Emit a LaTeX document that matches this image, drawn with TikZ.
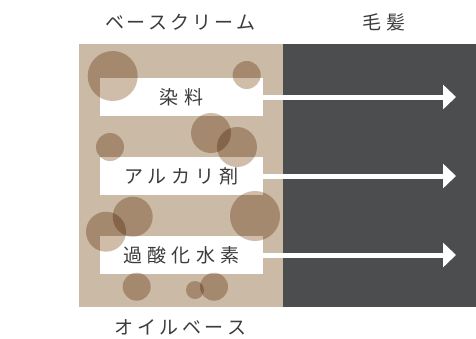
\documentclass[tikz,border=0pt]{standalone}
\usepackage{fontspec}
\newfontfamily\jp{Noto Sans CJK JP}
\usetikzlibrary{arrows.meta}
\definecolor{beige}{HTML}{CBBAA6}
\definecolor{hair}{HTML}{4C4D4F}
\definecolor{dot}{HTML}{CFBDAA}
\definecolor{ink}{HTML}{3C3C3C}
\begin{document}
\begin{tikzpicture}[x=1pt,y=-1pt,
  lbl/.style={font=\jp\fontsize{19}{19}\selectfont, text=ink, inner sep=0pt},
  boxlbl/.style={lbl, fill=white, minimum width=163pt, minimum height=38pt},
  flow/.style={draw=white, line width=5pt, -{Triangle[length=13pt,width=24pt]}},
  dotc/.style={fill=dot, draw=none}]
\useasboundingbox (0,0) rectangle (476,338);
\fill[white] (0,0) rectangle (476,338);
\fill[beige] (79,44) rectangle (283,307);
\fill[hair] (283,44) rectangle (476,307);
% headers
\node[lbl] (h1) at (180.5,22) {ベ\kern3pt ー\kern3pt ス\kern3pt ク\kern3pt リ\kern3pt ー\kern3pt ム};
\node[lbl] (h2) at (384,22) {毛\kern5pt 髪};
\node[lbl] (h3) at (180.5,327) {オ\kern3.5pt イ\kern3.5pt ル\kern3.5pt ベ\kern3.5pt ー\kern3.5pt ス};
% boxes
\node[boxlbl] (b1) at (181.5,97) {染\kern6.5pt 料};
\node[boxlbl] (b2) at (181.5,176) {ア\kern5pt ル\kern5pt カ\kern5pt リ\kern5pt 剤};
\node[boxlbl] (b3) at (181.5,255) {過\kern5.5pt 酸\kern5.5pt 化\kern5.5pt 水\kern5.5pt 素};
% arrows
\coordinate (t1) at (456,97);
\coordinate (t2) at (456,176);
\coordinate (t3) at (456,255);
\draw[flow] (b1.east) -- (t1);
\draw[flow] (b2.east) -- (t2);
\draw[flow] (b3.east) -- (t3);
% particles
\begin{scope}[blend mode=multiply]
\fill[dotc] (112.7,76) circle[radius=25];
\fill[dotc] (246.7,75) circle[radius=14];
\fill[dotc] (211,133) circle[radius=20];
\fill[dotc] (237,147) circle[radius=20];
\fill[dotc] (110,147) circle[radius=14];
\fill[dotc] (132.7,216.7) circle[radius=20];
\fill[dotc] (106,231.7) circle[radius=20];
\fill[dotc] (255,216) circle[radius=25];
\fill[dotc] (136.7,286.7) circle[radius=14];
\fill[dotc] (195,290) circle[radius=9];
\fill[dotc] (214,286.7) circle[radius=14];
\end{scope}
\end{tikzpicture}
\end{document}
